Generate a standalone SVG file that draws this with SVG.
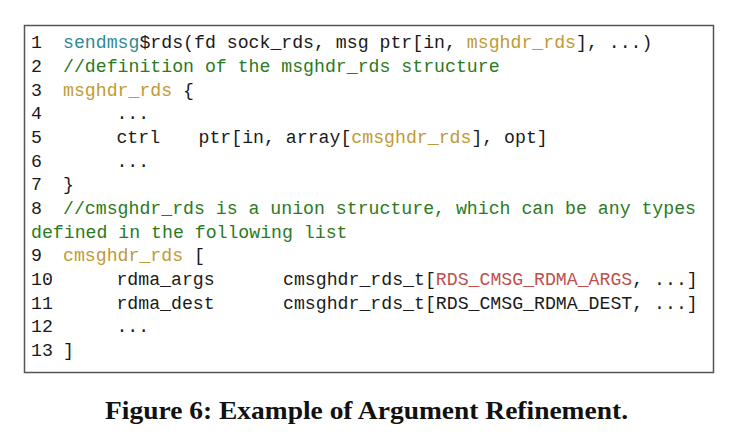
<svg xmlns="http://www.w3.org/2000/svg" width="733" height="440" viewBox="0 0 733 440">
<style>
.c{font-family:"Liberation Mono","DejaVu Sans Mono",monospace;font-size:18.2px;fill:#1a1a1a}
.t{fill:#2f8a96}
.g{fill:#2a7a22}
.y{fill:#c09a35}
.r{fill:#c0504d}
.cap{font-family:"Liberation Serif","Times New Roman",serif;font-weight:bold;font-size:26px;fill:#111}
</style>
<rect x="24.5" y="25.5" width="689" height="347" fill="#fff" stroke="#555" stroke-width="1.5"/>
<g id="code" class="c">
<text y="48"><tspan x="31">1</tspan><tspan x="63" class="t">sendmsg</tspan>$rds(fd sock_rds, msg ptr[in, <tspan class="y">msghdr_rds</tspan>], ...)</text>
<text y="72"><tspan x="31">2</tspan><tspan x="63" class="g">//definition of the msghdr_rds structure</tspan></text>
<text y="95.5"><tspan x="31">3</tspan><tspan x="63" class="y">msghdr_rds</tspan> {</text>
<text y="119"><tspan x="31">4</tspan><tspan x="116.4">...</tspan></text>
<text y="143"><tspan x="31">5</tspan><tspan x="116.4">ctrl</tspan><tspan x="198.5">ptr[in, array[</tspan><tspan class="y">cmsghdr_rds</tspan>], opt]</text>
<text y="166.5"><tspan x="31">6</tspan><tspan x="116.4">...</tspan></text>
<text y="190"><tspan x="31">7</tspan><tspan x="63">}</tspan></text>
<text y="214"><tspan x="31">8</tspan><tspan x="63" class="g">//cmsghdr_rds is a union structure, which can be any types</tspan></text>
<text y="237.5" x="31" class="g">defined in the following list</text>
<text y="261"><tspan x="31">9</tspan><tspan x="63" class="y">cmsghdr_rds</tspan> [</text>
<text y="285"><tspan x="31">10</tspan><tspan x="116.4">rdma_args</tspan><tspan x="283">cmsghdr_rds_t[</tspan><tspan class="r">RDS_CMSG_RDMA_ARGS</tspan>, ...]</text>
<text y="308.5"><tspan x="31">11</tspan><tspan x="116.4">rdma_dest</tspan><tspan x="283">cmsghdr_rds_t[RDS_CMSG_RDMA_DEST, ...]</tspan></text>
<text y="332"><tspan x="31">12</tspan><tspan x="116.4">...</tspan></text>
<text y="356"><tspan x="31">13</tspan><tspan x="63">]</tspan></text>
</g>
<g id="caption"><text class="cap" x="366.5" y="419" text-anchor="middle" textLength="523" lengthAdjust="spacingAndGlyphs">Figure 6: Example of Argument Refinement.</text></g>
</svg>
